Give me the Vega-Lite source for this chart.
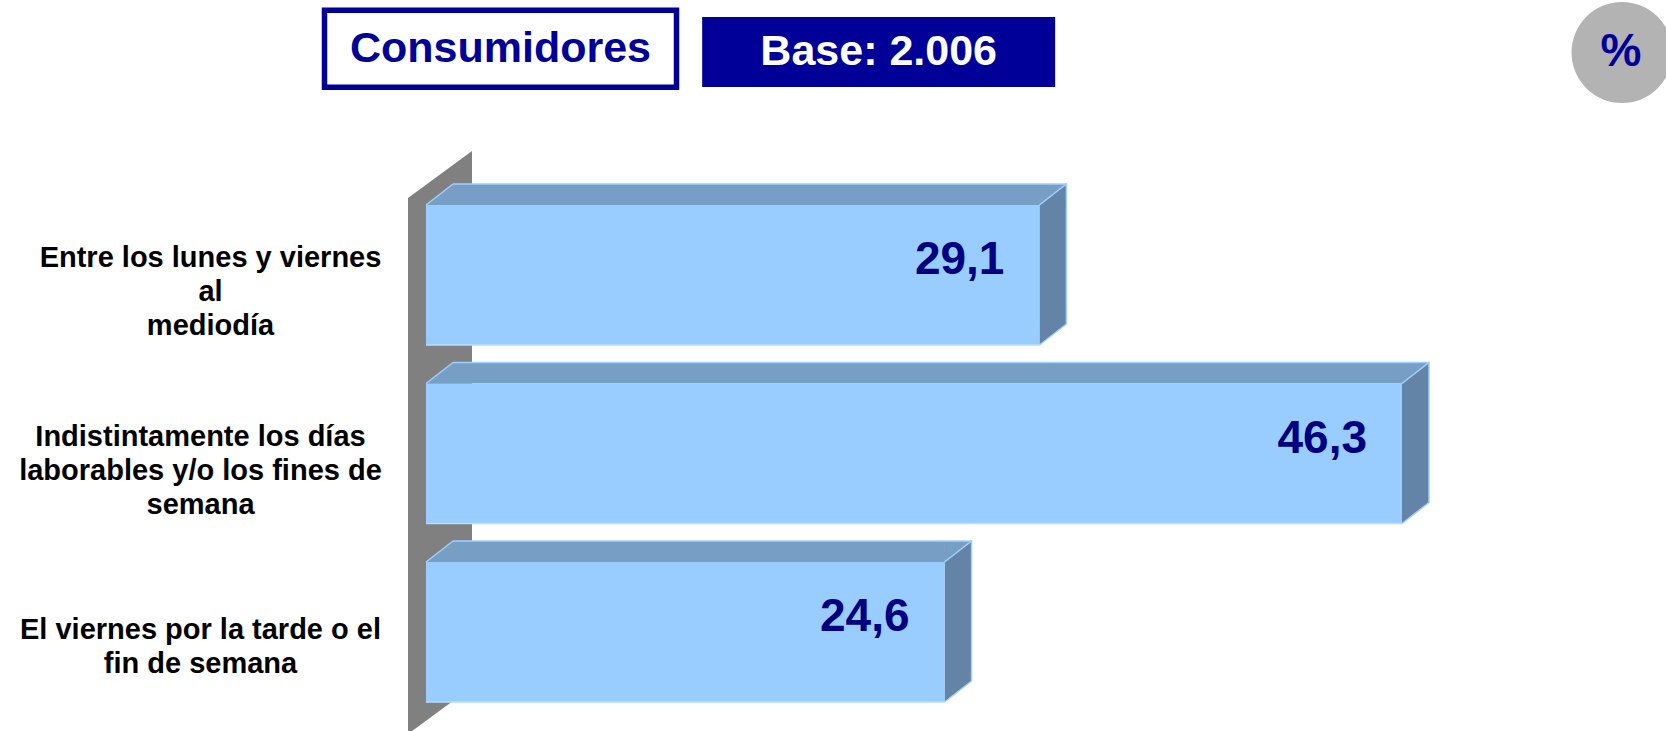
{
  "$schema": "https://vega.github.io/schema/vega-lite/v6.json",
  "width": 1666,
  "height": 731,
  "autosize": "none",
  "padding": 0,
  "background": "white",
  "config": {
    "view": {"stroke": null},
    "font": "Liberation Sans",
    "locale": {"number": {"decimal": ",", "thousands": ".", "grouping": [3], "currency": ["", " €"]}}
  },
  "datasets": {
    "bars": [
      {"cat": "Entre los lunes y viernes|al|mediodía", "value": 29.1},
      {"cat": "Indistintamente los días|laborables y/o los fines de|semana", "value": 46.3},
      {"cat": "El viernes por la tarde o el|fin de semana", "value": 24.6}
    ],
    "header": [
      {"h": "Consumidores"},
      {"h": "Base: 2.006"},
      {"h": "%"}
    ]
  },
  "resolve": {"scale": {"x": "independent", "y": "independent"}},
  "layer": [
    {
      "data": {"name": "bars"},
      "encoding": {
        "x": {"field": "value", "type": "quantitative", "scale": {"domain": [0, 50], "range": [426, 1480], "nice": false, "zero": true}, "axis": null},
        "y": {
          "field": "cat", "type": "nominal", "sort": null,
          "scale": {"domain": ["Entre los lunes y viernes|al|mediodía", "Indistintamente los días|laborables y/o los fines de|semana", "El viernes por la tarde o el|fin de semana"], "range": [205, 702], "paddingInner": 0.2157, "paddingOuter": 0},
          "axis": {"orient": "left", "offset": -200, "domain": false, "ticks": false, "tickSize": 0, "grid": false, "title": null, "labelPadding": {"condition": {"test": "indexof(datum.label, 'Entre') === 0", "value": -10}, "value": 0}, "labelAlign": "center", "labelBaseline": "middle", "labelOffset": {"condition": {"test": "length(split(datum.label, '|')) === 2", "value": -2}, "value": -17}, "labelFont": "Liberation Sans", "labelFontWeight": "bold", "labelFontSize": 29, "labelColor": "#000000", "labelLineHeight": 34, "labelLimit": 600, "labelOverlap": false, "labelBound": false, "labelFlush": false, "labelExpr": "split(datum.label, '|')"}
        }
      },
      "layer": [
        {
          "transform": [{"filter": "indexof(datum.cat, 'Indistintamente') === 0"}],
          "mark": {"type": "point", "shape": "M-18,-255.5L46,-302.5L46,233.5L-18,280.5Z", "size": 4, "filled": true, "fill": "#808080", "strokeWidth": 0, "opacity": 1},
          "encoding": {"x": {"datum": 0, "type": "quantitative"}}
        },
        {
          "mark": {"type": "bar", "height": 21, "yOffset": -80.5, "x2Offset": 27, "fill": "#779fc6", "opacity": 1},
          "encoding": {"x2": {"datum": 0}}
        },
        {
          "mark": {"type": "point", "shape": "M0,-70L27,-91L27.5,-91L27.5,-70Z", "size": 4, "filled": true, "fill": "#779fc6", "strokeWidth": 0, "opacity": 1},
          "encoding": {"x": {"datum": 0, "type": "quantitative"}}
        },
        {
          "mark": {"type": "point", "shape": "M-0.5,-70L-0.5,-91L27,-91Z", "size": 4, "filled": true, "fill": "#779fc6", "strokeWidth": 0, "opacity": 1}
        },
        {
          "mark": {"type": "point", "shape": "M0,-70L27,-91L27,49L0,70Z", "size": 4, "filled": true, "fill": "#6384a6", "strokeWidth": 0, "opacity": 1}
        },
        {
          "mark": {"type": "bar", "height": 140, "fill": "#99ccff", "opacity": 1},
          "encoding": {"x2": {"datum": 0}}
        },
        {
          "mark": {"type": "rule", "yOffset": -91, "xOffset": 27, "x2Offset": 27, "stroke": "#9fd0ff", "strokeWidth": 1.5, "opacity": 1},
          "encoding": {"x2": {"datum": 0}}
        },
        {
          "mark": {"type": "rule", "yOffset": 70, "stroke": "#b8ddff", "strokeWidth": 1.5, "opacity": 1},
          "encoding": {"x2": {"datum": 0}}
        },
        {
          "mark": {"type": "point", "shape": "M0,-70L27,-91L27,49L0,70", "size": 4, "filled": false, "stroke": "#9fd0ff", "strokeWidth": 1.5, "opacity": 1}
        },
        {
          "mark": {"type": "point", "shape": "M0,-70L27,-91", "size": 4, "filled": false, "stroke": "#9fd0ff", "strokeWidth": 1.5, "opacity": 1},
          "encoding": {"x": {"datum": 0, "type": "quantitative"}}
        },
        {
          "mark": {"type": "text", "align": "right", "baseline": "middle", "dx": -35, "dy": -15, "font": "Liberation Sans", "fontWeight": "bold", "fontSize": 46, "fill": "#000080"},
          "encoding": {"text": {"field": "value", "type": "quantitative", "format": ".1f"}}
        }
      ]
    },
    {
      "data": {"name": "header"},
      "encoding": {
        "x": {"field": "h", "type": "nominal", "scale": {"type": "point", "domain": ["Consumidores", "Base: 2.006", " ", "%"], "range": [500.5, 1620], "padding": 0}, "axis": null},
        "y": {"datum": "top", "type": "nominal", "scale": {"type": "point", "domain": ["top"], "range": [0, 104], "padding": 0.5}, "axis": null}
      },
      "layer": [
        {
          "transform": [{"filter": "datum.h === 'Consumidores'"}],
          "mark": {"type": "bar", "width": 352, "height": 77, "yOffset": -3.3, "fill": "#ffffff", "stroke": "#000099", "strokeWidth": 5.5, "opacity": 1}
        },
        {
          "transform": [{"filter": "datum.h === 'Base: 2.006'"}],
          "mark": {"type": "bar", "width": 353, "height": 70, "xOffset": 5, "fill": "#000099", "opacity": 1}
        },
        {
          "transform": [{"filter": "datum.h === '%'"}],
          "mark": {"type": "point", "shape": "circle", "size": 10200, "filled": true, "fill": "#b3b3b3", "strokeWidth": 0, "opacity": 1, "xOffset": 2, "yOffset": 0.5}
        },
        {
          "transform": [{"filter": "datum.h === 'Consumidores'"}],
          "mark": {"type": "text", "align": "center", "baseline": "middle", "dy": -3, "font": "Liberation Sans", "fontWeight": "bold", "fontSize": 43, "fill": "#000099"},
          "encoding": {"text": {"field": "h", "type": "nominal"}}
        },
        {
          "transform": [{"filter": "datum.h === 'Base: 2.006'"}],
          "mark": {"type": "text", "align": "center", "baseline": "middle", "dx": 5, "font": "Liberation Sans", "fontWeight": "bold", "fontSize": 43, "fill": "#ffffff"},
          "encoding": {"text": {"field": "h", "type": "nominal"}}
        },
        {
          "transform": [{"filter": "datum.h === '%'"}],
          "mark": {"type": "text", "align": "center", "baseline": "middle", "dx": 1, "font": "Liberation Sans", "fontWeight": "bold", "fontSize": 46, "fill": "#000099"},
          "encoding": {"text": {"field": "h", "type": "nominal"}}
        }
      ]
    }
  ]
}
